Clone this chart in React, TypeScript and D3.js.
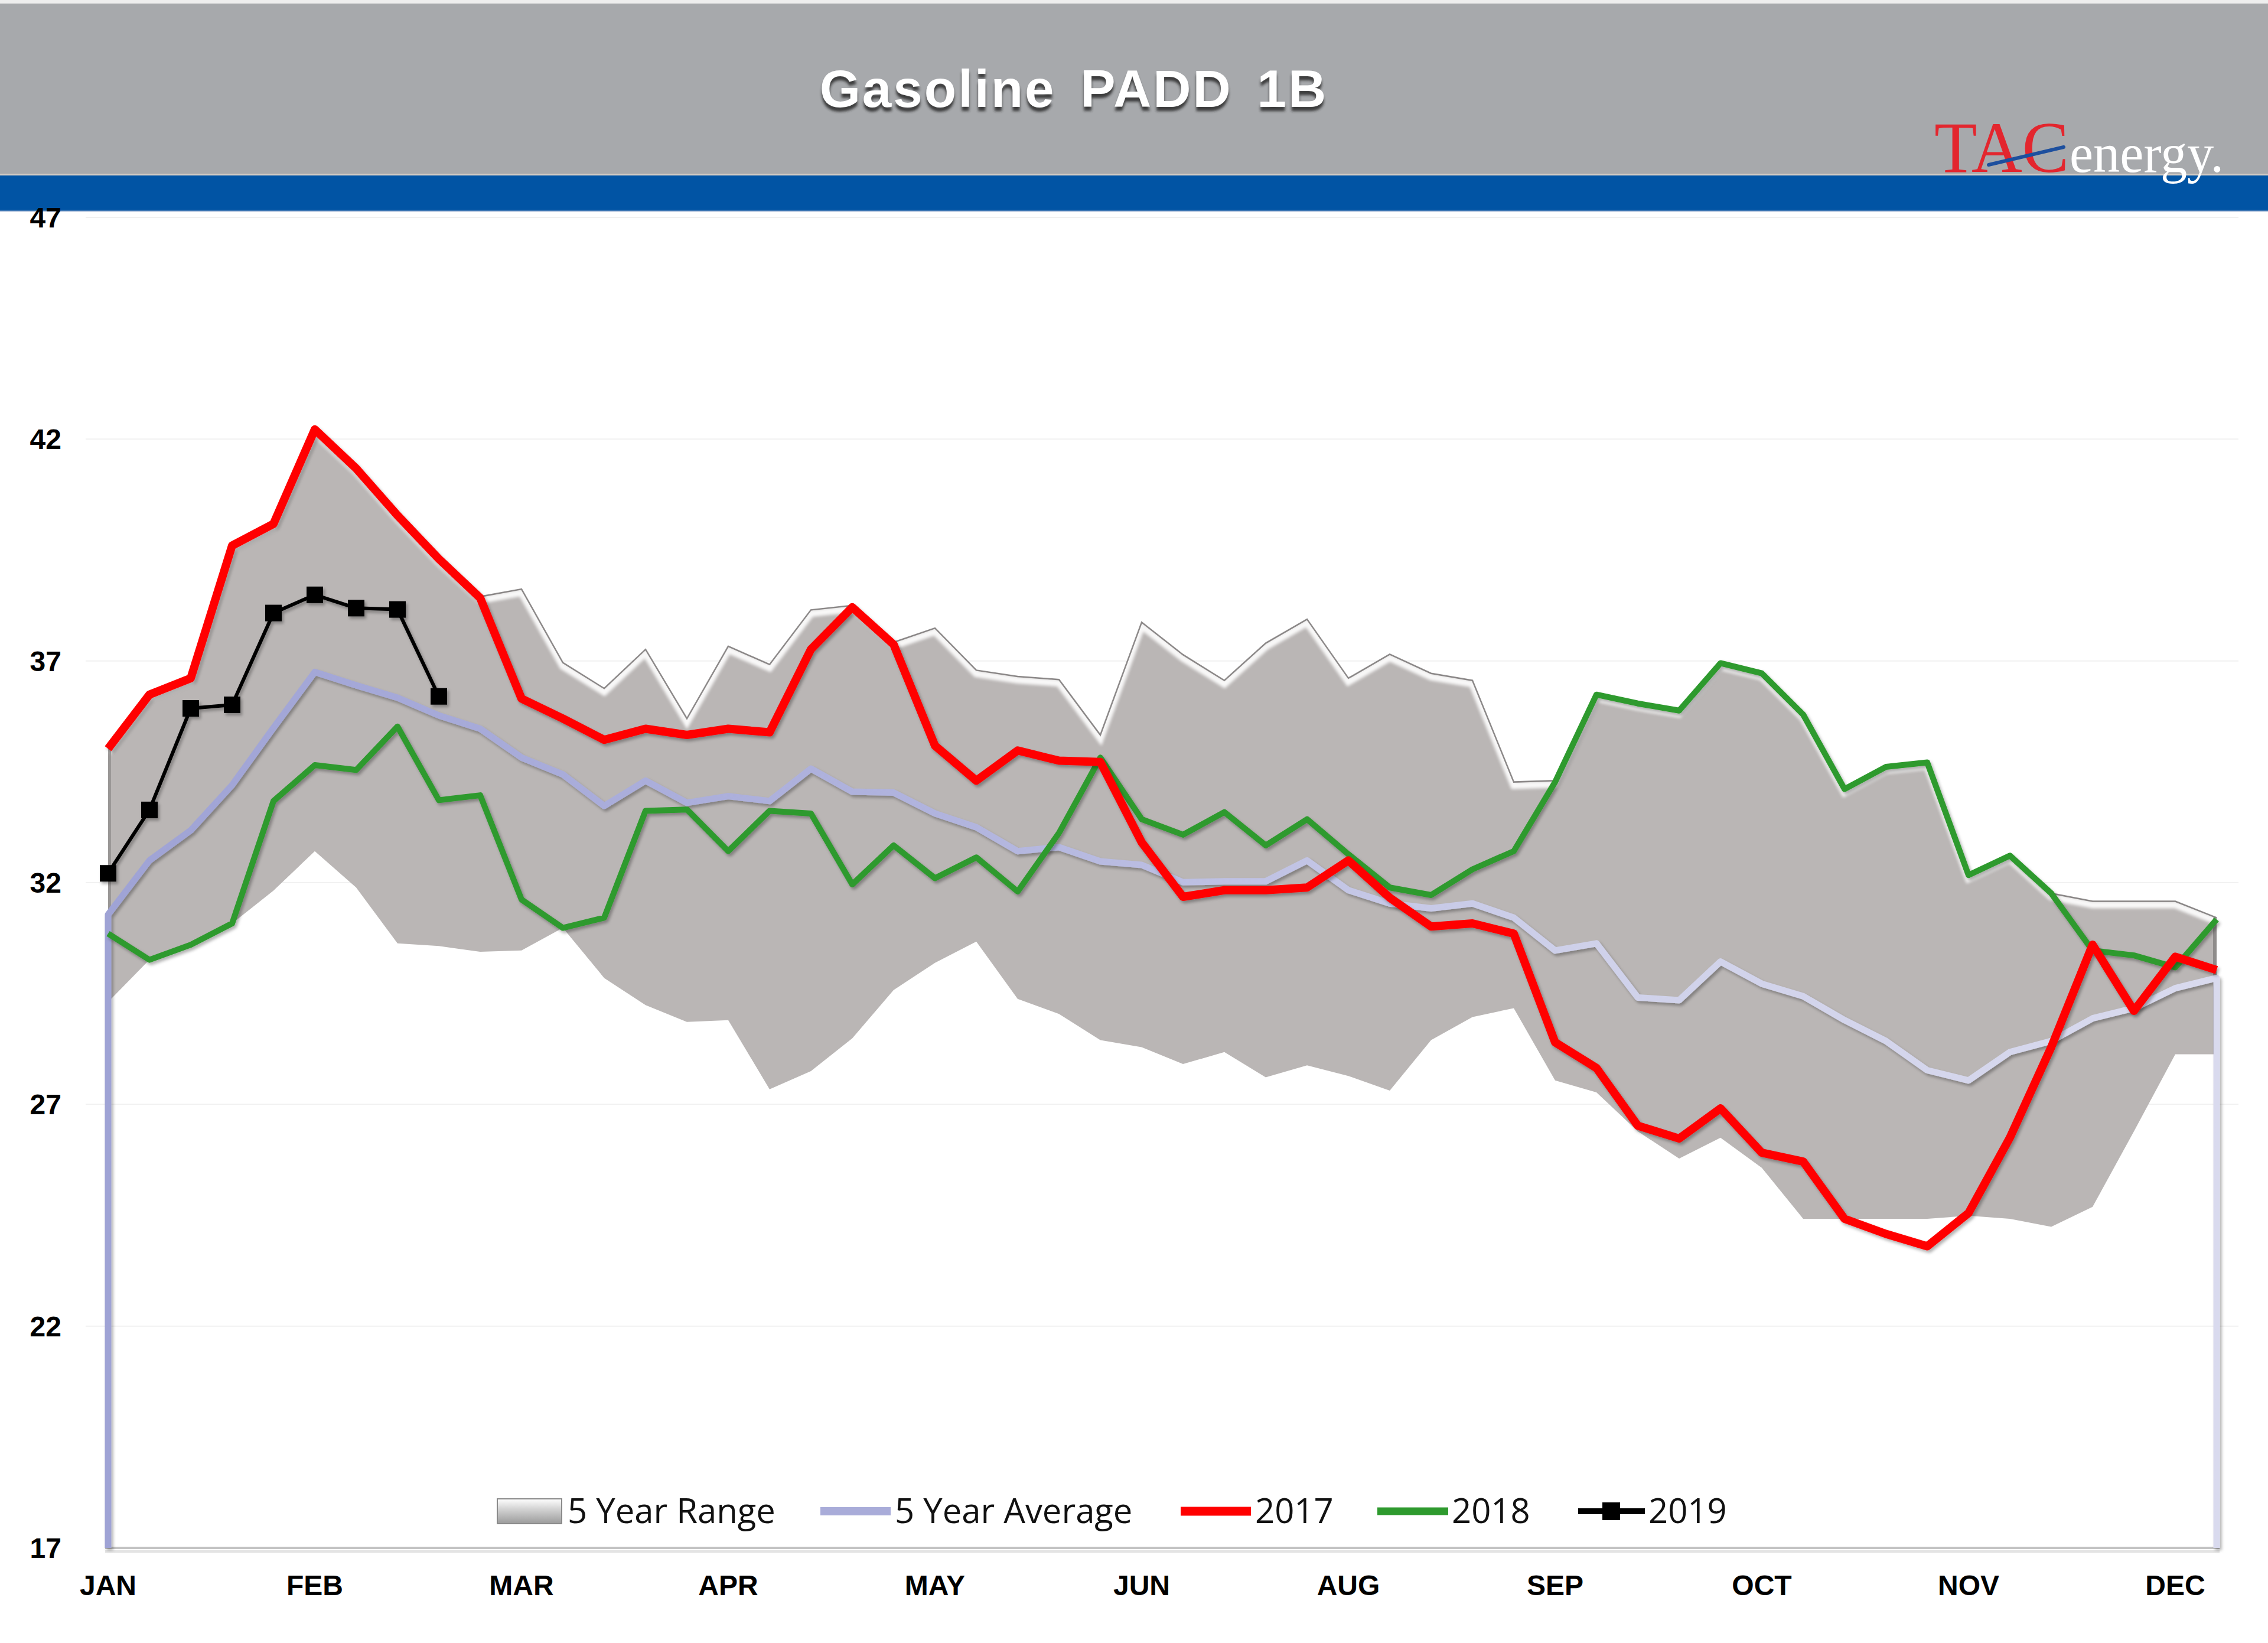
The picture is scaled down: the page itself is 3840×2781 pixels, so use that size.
import React from "react";
import * as d3 from "d3";

// ---------- DATA ----------
const weekIndex: number[] = Array.from({ length: 52 }, (_, i) => i);
const monthLabels = ["JAN", "FEB", "MAR", "APR", "MAY", "JUN", "AUG", "SEP", "OCT", "NOV", "DEC"];
const monthLabelWeeks = [0, 5, 10, 15, 20, 25, 30, 35, 40, 45, 50];
const yTicks = [17, 22, 27, 32, 37, 42, 47];

const rangeUpper = [
  35.02, 36.24, 36.61, 39.6, 40.09, 42.22, 41.34, 40.28, 39.3, 38.45, 38.62, 36.96, 36.38,
  37.26, 35.7, 37.33, 36.92, 38.15, 38.25, 37.42, 37.74, 36.79, 36.65, 36.58, 35.33, 37.87,
  37.14, 36.56, 37.4, 37.94, 36.61, 37.15, 36.72, 36.56, 34.27, 34.3, 36.24, 36.04, 35.88,
  36.95, 36.72, 35.79, 34.11, 34.61, 34.71, 32.17, 32.61, 31.76, 31.58, 31.58, 31.58, 31.21,
];
const rangeLower = [
  29.31, 30.26, 30.6, 31.08, 31.82, 32.71, 31.89, 30.63, 30.57, 30.44, 30.47, 30.98, 29.85,
  29.24, 28.86, 28.9, 27.34, 27.75, 28.49, 29.58, 30.19, 30.67, 29.38, 29.04, 28.45, 28.29,
  27.91, 28.18, 27.61, 27.88, 27.64, 27.31, 28.45, 28.97, 29.17, 27.54, 27.27, 26.39, 25.78,
  26.25, 25.57, 24.42, 24.42, 24.42, 24.42, 24.49, 24.42, 24.24, 24.69, 26.39, 28.13, 28.13,
];
const avg5 = [
  31.28, 32.5, 33.18, 34.2, 35.49, 36.75, 36.45, 36.17, 35.77, 35.47, 34.82, 34.44, 33.73,
  34.3, 33.8, 33.95, 33.84, 34.57, 34.05, 34.03, 33.56, 33.25, 32.71, 32.8, 32.48, 32.4,
  32.01, 32.03, 32.03, 32.5, 31.83, 31.53, 31.42, 31.53, 31.21, 30.47, 30.63, 29.41, 29.35,
  30.22, 29.72, 29.44, 28.9, 28.43, 27.77, 27.54, 28.18, 28.43, 28.94, 29.17, 29.62, 29.85,
];
const y2017 = [
  35.02, 36.24, 36.61, 39.6, 40.09, 42.22, 41.34, 40.28, 39.3, 38.42, 36.15, 35.7, 35.22,
  35.47, 35.33, 35.47, 35.39, 37.26, 38.21, 37.37, 35.09, 34.3, 34.98, 34.75, 34.72, 32.91,
  31.68, 31.83, 31.83, 31.89, 32.5, 31.66, 31.01, 31.08, 30.85, 28.4, 27.82, 26.52, 26.23,
  26.91, 25.91, 25.71, 24.42, 24.08, 23.8, 24.55, 26.25, 28.29, 30.6, 29.11, 30.33, 30.03,
];
const y2018 = [
  30.85, 30.26, 30.6, 31.08, 33.84, 34.65, 34.54, 35.52, 33.86, 33.97, 31.62, 30.98, 31.21,
  33.62, 33.65, 32.71, 33.62, 33.56, 31.96, 32.84, 32.1, 32.57, 31.8, 33.12, 34.82, 33.43,
  33.08, 33.59, 32.84, 33.43, 32.64, 31.89, 31.72, 32.3, 32.71, 34.27, 36.24, 36.04, 35.88,
  36.95, 36.72, 35.79, 34.11, 34.61, 34.71, 32.17, 32.61, 31.76, 30.47, 30.36, 30.09, 31.17,
];
const y2019 = [32.21, 33.64, 35.93, 36.01, 38.08, 38.49, 38.19, 38.16, 36.2];

const legendNames = ["5 Year Range", "5 Year Average", "2017", "2018", "2019"];
const titleText = "Gasoline PADD 1B";

// ---------- LAYOUT ----------
const W = 3840;
const H = 2781;
const x = d3.scaleLinear().domain([0, weekIndex.length - 1]).range([183, 3753]);
const y = d3.scaleLinear().domain([17, 47]).range([2620, 368]);
const yMin = y.domain()[0];

const FONT = "'Liberation Sans', Arial, sans-serif";
const LEG_FONT = "'Open Sans', 'Noto Sans', sans-serif";

export default function App() {
  const line = d3
    .line<number>()
    .x((_, i) => x(i))
    .y((d) => y(d));
  const area = d3
    .area<number>()
    .x((_, i) => x(i))
    .y0((_, i) => y(rangeLower[i]))
    .y1((d) => y(d));
  const pairLine = d3
    .line<[number, number]>()
    .x((d) => x(d[0]))
    .y((d) => y(d[1]));

  const areaPath = area(rangeUpper) || "";
  const upperPath = line(rangeUpper) || "";
  const avgPts: [number, number][] = [
    [0, yMin],
    ...avg5.map((v, i) => [i, v] as [number, number]),
    [avg5.length - 1, yMin],
  ];
  const avgPath = pairLine(avgPts) || "";

  const legY = 2558;
  const legItems = [
    { name: legendNames[0], sx: 842, tx: 961 },
    { name: legendNames[1], sx: 1389, tx: 1515 },
    { name: legendNames[2], sx: 1999, tx: 2125 },
    { name: legendNames[3], sx: 2332, tx: 2458 },
    { name: legendNames[4], sx: 2672, tx: 2791 },
  ];

  return (
    <svg
      width={W}
      height={H}
      viewBox={`0 0 ${W} ${H}`}
      style={{ position: "absolute", left: 0, top: 0, display: "block", background: "#fff" }}
    >
      <defs>
        <filter id="lineShadow" x="-5%" y="-20%" width="110%" height="140%">
          <feDropShadow dx="3" dy="4" stdDeviation="2.5" floodColor="#000" floodOpacity="0.3" />
        </filter>
        <filter id="blur2" x="-5%" y="-20%" width="110%" height="140%">
          <feGaussianBlur stdDeviation="2.5" />
        </filter>
        <filter id="titleBlur" x="-5%" y="-30%" width="110%" height="160%">
          <feGaussianBlur stdDeviation="2" />
        </filter>
        <linearGradient id="avgGrad" gradientUnits="userSpaceOnUse" x1={x(0)} x2={x(51)} y1="0" y2="0">
          <stop offset="0" stopColor="#9fa3d5" />
          <stop offset="0.4" stopColor="#b1b4de" />
          <stop offset="0.7" stopColor="#cfd1ea" />
          <stop offset="1" stopColor="#d9daee" />
        </linearGradient>
        <linearGradient id="swatchGrad" x1="0" x2="0" y1="0" y2="1">
          <stop offset="0" stopColor="#ffffff" />
          <stop offset="0.35" stopColor="#d9d9d9" />
          <stop offset="1" stopColor="#9b9b9b" />
        </linearGradient>
        <clipPath id="rangeClip">
          <path d={areaPath} />
        </clipPath>
      </defs>

      {/* header */}
      <rect x={0} y={0} width={W} height={6} fill="#eeeeee" />
      <rect x={0} y={6} width={W} height={288} fill="#a7a9ac" />
      <rect x={0} y={294} width={W} height={3} fill="#d4ccc4" />
      <rect x={0} y={297} width={W} height={60} fill="#0154a4" />
      <rect x={0} y={355} width={W} height={4} fill="#7d9cc6" opacity={0.5} />

      {/* title */}
      <text
        x={1818}
        y={188}
        textAnchor="middle"
        fontFamily={FONT}
        fontWeight="bold"
        fontSize={89}
        letterSpacing={3}
        wordSpacing={14}
        fill="#2a2a2a"
        opacity={0.85}
        filter="url(#titleBlur)"
      >
        {titleText}
      </text>
      <text
        x={1818}
        y={181}
        textAnchor="middle"
        fontFamily={FONT}
        fontWeight="bold"
        fontSize={89}
        letterSpacing={3}
        wordSpacing={14}
        fill="#ffffff"
      >
        {titleText}
      </text>

      {/* logo */}
      <text
        x={3275}
        y={291}
        fontFamily="'Liberation Serif', 'Times New Roman', serif"
        fontSize={122}
        fill="#e3262e"
        textLength={228}
        lengthAdjust="spacingAndGlyphs"
      >
        TAC
      </text>
      <line x1={3367} y1={279} x2={3494} y2={249} stroke="#1d4f9e" strokeWidth={6} strokeLinecap="round" />
      <text
        x={3504}
        y={291}
        fontFamily="'Liberation Serif', 'Times New Roman', serif"
        fontSize={93}
        fill="#ffffff"
        textLength={261}
        lengthAdjust="spacingAndGlyphs"
      >
        energy.
      </text>

      {/* gridlines */}
      {yTicks
        .filter((t) => t !== yMin)
        .map((t) => (
          <line key={`g${t}`} x1={145} x2={3790} y1={y(t)} y2={y(t)} stroke="#f1f1f1" strokeWidth={2} />
        ))}

      {/* 5 year range area with bevel */}
      <path d={areaPath} fill="#bab6b5" />
      <g clipPath="url(#rangeClip)">
        <path
          d={upperPath}
          fill="none"
          stroke="#ffffff"
          strokeWidth={12}
          transform="translate(0,6)"
          opacity={0.9}
          filter="url(#blur2)"
        />
        <line
          x1={x(0)}
          x2={x(0)}
          y1={y(rangeUpper[0])}
          y2={y(rangeLower[0])}
          stroke="#8d8a89"
          strokeWidth={10}
          opacity={0.7}
        />
        <line
          x1={x(51)}
          x2={x(51)}
          y1={y(rangeUpper[51])}
          y2={y(rangeLower[51])}
          stroke="#7e7b7a"
          strokeWidth={12}
          opacity={0.7}
        />
      </g>
      <path d={upperPath} fill="none" stroke="#6a6666" strokeWidth={2.5} opacity={0.75} />

      {/* bottom axis line */}
      <line x1={178} x2={3758} y1={2626} y2={2626} stroke="#e4e4e4" strokeWidth={5} />
      <line x1={178} x2={3758} y1={2620} y2={2620} stroke="#c3c3c3" strokeWidth={4} />

      {/* 5 year average */}
      <path
        d={avgPath}
        fill="none"
        stroke="url(#avgGrad)"
        strokeWidth={11}
        strokeLinejoin="round"
        filter="url(#lineShadow)"
      />

      {/* 2018 */}
      <path
        d={line(y2018) || ""}
        fill="none"
        stroke="#2e9a2e"
        strokeWidth={10}
        strokeLinejoin="round"
        filter="url(#lineShadow)"
      />
      {/* 2017 */}
      <path
        d={line(y2017) || ""}
        fill="none"
        stroke="#ff0000"
        strokeWidth={14}
        strokeLinejoin="round"
        filter="url(#lineShadow)"
      />
      {/* 2019 */}
      <g filter="url(#lineShadow)">
        <path d={line(y2019) || ""} fill="none" stroke="#000000" strokeWidth={6} strokeLinejoin="round" />
        {y2019.map((v, i) => (
          <rect key={`m${i}`} x={x(i) - 14} y={y(v) - 14} width={28} height={28} fill="#000000" />
        ))}
      </g>

      {/* y tick labels */}
      {yTicks.map((t) => (
        <text
          key={`yt${t}`}
          x={104}
          y={y(t) + 17}
          textAnchor="end"
          fontFamily={FONT}
          fontWeight="bold"
          fontSize={48}
          fill="#000"
        >
          {t}
        </text>
      ))}

      {/* x tick labels */}
      {monthLabels.map((m, k) => (
        <text
          key={`xt${m}`}
          x={x(monthLabelWeeks[k])}
          y={2700}
          textAnchor="middle"
          fontFamily={FONT}
          fontWeight="bold"
          fontSize={48}
          fill="#000"
        >
          {m}
        </text>
      ))}

      {/* legend */}
      <g>
        <rect
          x={legItems[0].sx}
          y={legY - 21}
          width={109}
          height={42}
          fill="url(#swatchGrad)"
          stroke="#8a8a8a"
          strokeWidth={2}
        />
        <line
          x1={legItems[1].sx}
          x2={legItems[1].sx + 119}
          y1={legY}
          y2={legY}
          stroke="#a9acd9"
          strokeWidth={14}
        />
        <line
          x1={legItems[2].sx}
          x2={legItems[2].sx + 119}
          y1={legY}
          y2={legY}
          stroke="#ff0000"
          strokeWidth={15}
        />
        <line
          x1={legItems[3].sx}
          x2={legItems[3].sx + 120}
          y1={legY}
          y2={legY}
          stroke="#2e9a2e"
          strokeWidth={13}
        />
        <line
          x1={legItems[4].sx}
          x2={legItems[4].sx + 113}
          y1={legY}
          y2={legY}
          stroke="#000"
          strokeWidth={10}
        />
        <rect x={legItems[4].sx + 56 - 15} y={legY - 15} width={30} height={30} fill="#000" />
        {legItems.map((it) => (
          <text
            key={`lt${it.name}`}
            x={it.tx}
            y={legY + 20}
            fontFamily={LEG_FONT}
            fontSize={58}
            fill="#111"
          >
            {it.name}
          </text>
        ))}
      </g>
    </svg>
  );
}
